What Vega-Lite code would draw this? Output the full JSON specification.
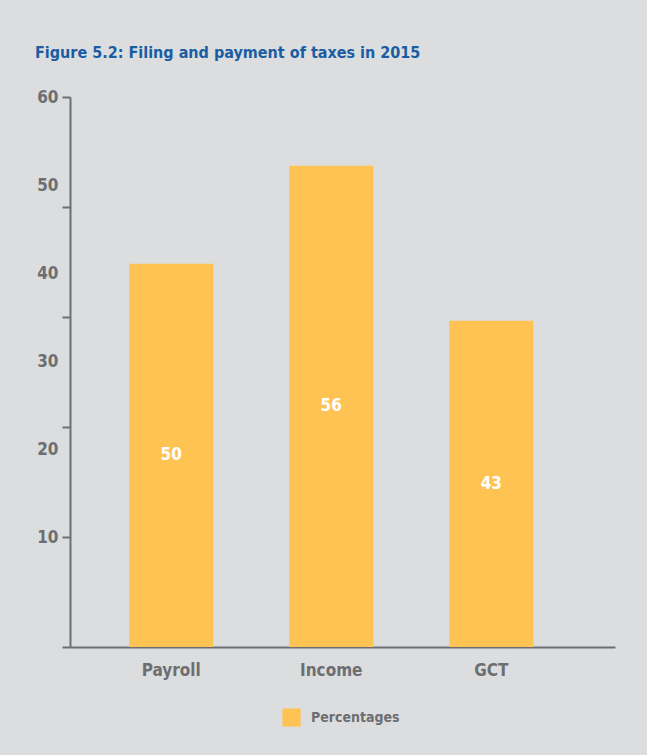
{
  "$schema": "https://vega.github.io/schema/vega-lite/v6.json",
  "width": 545,
  "height": 550,
  "autosize": "none",
  "padding": {"left": 70, "top": 97, "right": 32, "bottom": 108},
  "background": "#dcdddf",
  "title": {
    "text": "Figure 5.2: Filing and payment of taxes in 2015",
    "anchor": "start",
    "frame": "group",
    "dx": -35,
    "offset": 27,
    "font": "'DejaVu Sans Condensed', 'Liberation Sans Narrow', Roboto, sans-serif",
    "fontSize": 16,
    "fontWeight": "bold",
    "color": "#1a5da3"
  },
  "config": {
    "view": {"stroke": null},
    "axis": {
      "labelFont": "'DejaVu Sans Condensed', 'Liberation Sans Narrow', Roboto, sans-serif",
      "labelFontWeight": "bold",
      "labelFontSize": 17,
      "labelColor": "#6d6e71",
      "domainColor": "#6d6e71",
      "tickColor": "#6d6e71",
      "domainWidth": 2,
      "tickWidth": 2,
      "grid": false,
      "title": null
    }
  },
  "data": {
    "values": [
      {"category": "Payroll", "value": 41.8, "label": "50"},
      {"category": "Income", "value": 52.5, "label": "56"},
      {"category": "GCT", "value": 35.6, "label": "43"}
    ]
  },
  "encoding": {
    "x": {
      "field": "category",
      "type": "nominal",
      "sort": null,
      "scale": {"paddingInner": 0.475, "paddingOuter": 0.44, "align": 0.42},
      "axis": {"labelAngle": 0, "ticks": false, "labelPadding": 15, "domainWidth": 2}
    }
  },
  "layer": [
    {
      "mark": {"type": "bar", "color": "#ffc353"},
      "encoding": {
        "y": {
          "field": "value",
          "type": "quantitative",
          "scale": {"domain": [0, 60], "nice": false},
          "axis": {"values": [0, 12, 24, 36, 48, 60], "labels": false, "tickSize": 8, "domain": true}
        },
        "color": {
          "datum": "Percentages",
          "scale": {"range": ["#ffc353"]},
          "legend": {
            "orient": "none",
            "legendX": 212,
            "legendY": 611,
            "title": null,
            "symbolType": "square",
            "symbolSize": 330,
            "symbolStrokeWidth": 0,
            "symbolOpacity": 1,
            "labelFont": "'DejaVu Sans Condensed', 'Liberation Sans Narrow', Roboto, sans-serif",
            "labelFontWeight": "bold",
            "labelFontSize": 14,
            "labelColor": "#6d6e71",
            "labelOffset": 10
          }
        }
      }
    },
    {
      "mark": {"type": "tick", "opacity": 0},
      "encoding": {
        "y": {
          "field": "value",
          "type": "quantitative",
          "scale": {"domain": [0, 60], "nice": false},
          "axis": {
            "orient": "left",
            "values": [12, 21.6, 31.2, 40.8, 50.4, 60],
            "labelExpr": "format(10 + (datum.value - 12) * 50 / 48, '.0f')",
            "ticks": false,
            "tickSize": 0,
            "domain": false,
            "labelPadding": 12
          }
        }
      }
    },
    {
      "mark": {"type": "text", "color": "white", "font": "'DejaVu Sans Condensed', 'Liberation Sans Narrow', Roboto, sans-serif", "fontWeight": "bold", "fontSize": 17, "baseline": "middle"},
      "encoding": {
        "y": {
          "field": "value",
          "type": "quantitative",
          "scale": {"domain": [0, 120], "nice": false},
          "axis": null
        },
        "text": {"field": "label"}
      }
    }
  ],
  "resolve": {"scale": {"y": "independent"}, "axis": {"y": "independent"}}
}
